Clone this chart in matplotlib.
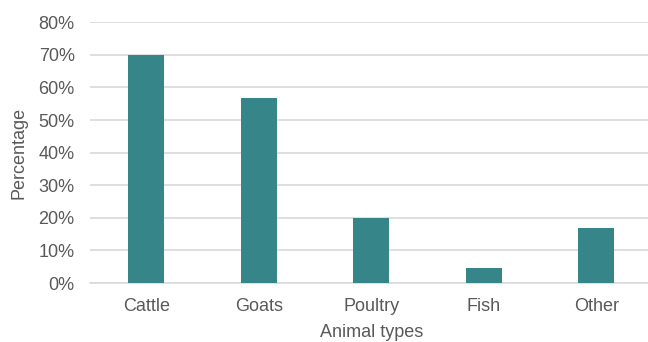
import matplotlib
matplotlib.use("Agg")
from matplotlib import pyplot as plt
from matplotlib.ticker import PercentFormatter

# data
animals = ["Cattle", "Goats", "Poultry", "Fish", "Other"]
shares = [70, 56.7, 20, 4.6, 16.9]
y_ticks = [0, 10, 20, 30, 40, 50, 60, 70, 80]

plt.rcParams['font.family'] = ['Liberation Sans', 'DejaVu Sans']
grey_text = '#595959'

fig = plt.figure(figsize=(6.48, 3.42), dpi=100)
ax = fig.add_axes([90 / 648, 1 - 283 / 342, 562.5 / 648, (283 - 22.3) / 342])

ax.bar(range(len(animals)), shares, width=0.32, color='#358589', zorder=3)

ax.set_xlim(-0.5, len(animals) - 0.5)
ax.set_ylim(0, 80)
ax.set_yticks(y_ticks)
ax.yaxis.set_major_formatter(PercentFormatter(decimals=0))
ax.set_xticks(range(len(animals)))
ax.set_xticklabels(animals)

ax.grid(axis='y', color='#D9D9D9', linewidth=1.2, zorder=0)
for side in ['top', 'right', 'left']:
    ax.spines[side].set_visible(False)
ax.spines['bottom'].set_color('#D9D9D9')
ax.spines['bottom'].set_linewidth(1.2)

ax.tick_params(axis='both', length=0, labelsize=13, colors=grey_text)
ax.tick_params(axis='x', pad=11)
ax.tick_params(axis='y', pad=11)

ax.set_xlabel("Animal types", fontsize=13, color=grey_text, labelpad=6)
ax.set_ylabel("Percentage", fontsize=13, color=grey_text)
# y title sits a bit further left than the default spot
ax.yaxis.set_label_coords(-62 / 562.5, 0.5)

fig.savefig("out.png", dpi=100)
